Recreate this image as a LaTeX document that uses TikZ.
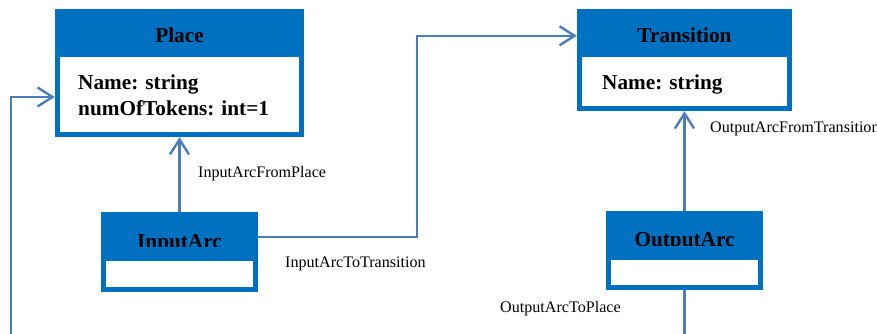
\documentclass[tikz,border=0pt]{standalone}
\usepackage{fontspec}
\setmainfont{Liberation Serif}
\usetikzlibrary{arrows.meta}

\definecolor{headblue}{HTML}{0070C0}
\definecolor{linkblue}{HTML}{4A7EBB}

\tikzset{
  classbox/.style={rectangle, fill=headblue, draw=none, inner sep=0pt},
  classtitle/.style={anchor=base, inner sep=0pt, font=\fontsize{21.25pt}{25pt}\selectfont\bfseries},
  attrtext/.style={anchor=base west, inner sep=0pt, font=\fontsize{21.25pt}{25pt}\selectfont\bfseries},
  rolelabel/.style={anchor=base west, inner sep=0pt, font=\fontsize{16.1pt}{18pt}\selectfont},
  link/.style={draw=linkblue, line width=2.4pt},
  linkarrow/.style={link, -{Straight Barb[length=15pt,width=19pt]}},
}

\begin{document}
\begin{tikzpicture}[x=1pt, y=1pt]
\clip (0,0) rectangle (877,333);
\fill[white] (0,0) rectangle (877,333);

% class boxes: blue frame with a white attribute compartment
\node[classbox, minimum width=249pt, minimum height=128pt] (place) at (179.5,260) {};
\fill[white] (60,201) rectangle (299,276);
\node[classtitle] (placetitle) at (179.5,290.3) {Place};
\node[attrtext] (placeattra) at (78,243.7) {Name: string};
\node[attrtext] (placeattrb) at (78,218) {numOfTokens: int=1};

\node[classbox, minimum width=215pt, minimum height=102pt] (trans) at (684.5,273) {};
\fill[white] (582,227) rectangle (787,276);
\node[classtitle] (transtitle) at (684.5,290.3) {Transition};
\node[attrtext] (transattr) at (602,243.7) {Name: string};

\node[classbox, minimum width=157pt, minimum height=80pt] (inarc) at (179.5,81) {};
\fill[white] (106,46) rectangle (253,72);
\begin{scope}
  \clip (101,86.5) rectangle (258,121);
  \node[classtitle] (inarctitle) at (179.5,85) {InputArc};
\end{scope}

\node[classbox, minimum width=157pt, minimum height=79pt] (outarc) at (684.5,82.5) {};
\fill[white] (611,48) rectangle (758,73);
\begin{scope}
  \clip (606,88) rectangle (763,122);
  \node[classtitle] (outarctitle) at (684.5,87) {OutputArc};
\end{scope}

% associations
\coordinate (loopcorner) at (11,-20);
\draw[linkarrow] (inarc.north) -- (place.south);
\draw[linkarrow] ([yshift=-25pt]inarc.north east) -- ++(159,0) |- ([yshift=-27pt]trans.north west);
\draw[linkarrow] (outarc.north) -- (trans.south);
\draw[linkarrow] (outarc.south) |- (loopcorner) |- ([yshift=-24pt]place.west);

% role names
\node[rolelabel] (lblfromplace) at (198,155.7) {InputArcFromPlace};
\node[rolelabel] (lbltotrans) at (285,66) {InputArcToTransition};
\node[rolelabel] (lblfromtrans) at (710,201) {OutputArcFromTransition};
\node[rolelabel] (lbltoplace) at (500,21) {OutputArcToPlace};
\end{tikzpicture}
\end{document}
